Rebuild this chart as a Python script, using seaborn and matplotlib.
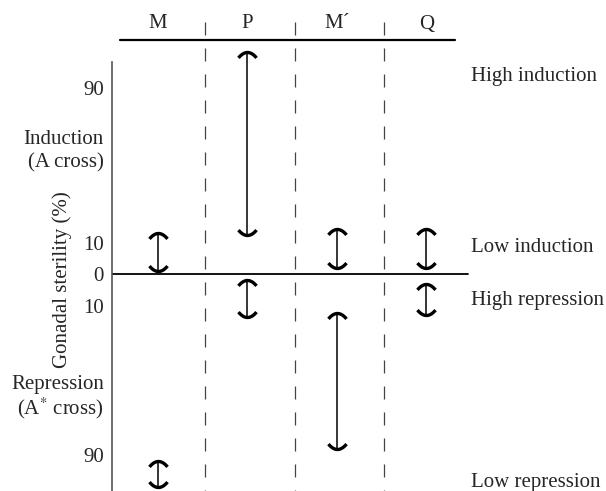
import numpy as np
import pandas as pd
import matplotlib
matplotlib.use("Agg")
import matplotlib.pyplot as plt
from matplotlib.path import Path
import seaborn as sns

# Strains and their gonadal-sterility ranges (%)
strains = ["M", "P", "M\u00b4", "Q"]
induction_low = [1, 14, 2, 2]        # A cross
induction_high = [15, 100, 17, 17]
repression_low = [92, 2, 14, 3]      # A* cross
repression_high = [100, 16, 87, 15]

tick_values = [90, 10, 0, -10, -90]
tick_labels = ["90", "10", "0", "10", "90"]
side_notes = ["High induction", "Low induction", "High repression", "Low repression"]

sns.set_theme(style="white")
plt.rcParams["font.family"] = ["Liberation Serif", "DejaVu Serif"]
plt.rcParams["mathtext.fontset"] = "stix"
FS = 15

# Long-form table: one row per range end, induction upward, repression downward
rows = []
for i, s in enumerate(strains):
    rows.append((i, induction_low[i], f"{s}-A"))
    rows.append((i, induction_high[i], f"{s}-A"))
    rows.append((i, -repression_low[i], f"{s}-A*"))
    rows.append((i, -repression_high[i], f"{s}-A*"))
df = pd.DataFrame(rows, columns=["pos", "value", "range"])

# Schematic sterility axis: ends (0-10, 90-100) stretched, middle compressed
up_knots, up_spans = np.array([0, 10, 90, 100, 200.0]), np.array([0, 31, 186, 222, 582.0])
dn_knots, dn_spans = np.array([0, 10, 90, 100, 200.0]), np.array([0, 32, 181, 213, 533.0])


def fwd(v):
    v = np.asarray(v, dtype=float)
    return np.where(v >= 0, np.interp(np.abs(v), up_knots, up_spans),
                    -np.interp(np.abs(v), dn_knots, dn_spans))


def inv(t):
    t = np.asarray(t, dtype=float)
    return np.where(t >= 0, np.interp(np.abs(t), up_spans, up_knots),
                    -np.interp(np.abs(t), dn_spans, dn_knots))


W, H = 606, 491
fig = plt.figure(figsize=(W / 100, H / 100), dpi=100)
ax = fig.add_axes([112 / W, 0, (W - 112) / W, 1])
ax.set_yscale("function", functions=(fwd, inv))
ax.set_xlim(-0.514, 5.006)
ax.set_ylim(float(inv(-217)), float(inv(274)))

# range stems
sns.lineplot(data=df, x="pos", y="value", units="range", estimator=None,
             color="black", linewidth=1.1, legend=False, ax=ax)

# curved end caps
xs = np.linspace(-1, 1, 25)
top_cap = Path(np.column_stack([xs, -0.6 * xs ** 2]))
bottom_cap = Path(np.column_stack([xs, 0.6 * xs ** 2]))
pos = np.arange(len(strains))
tops = list(induction_high) + [-v for v in repression_low]
bottoms = list(induction_low) + [-v for v in repression_high]
ax.plot(np.concatenate([pos, pos]), tops, linestyle="none", marker=top_cap,
        markersize=13, markerfacecolor="none", markeredgecolor="black",
        markeredgewidth=2.4)
ax.plot(np.concatenate([pos, pos]), bottoms, linestyle="none", marker=bottom_cap,
        markersize=13, markerfacecolor="none", markeredgecolor="black",
        markeredgewidth=2.4)

# baseline at 0 %
ax.axhline(0, xmin=0, xmax=(468 - 112) / (W - 112), color="black", lw=1.3)

# dashed separators between strains
dash = 13 * 0.72 / 0.9
for xd in [0.52, 1.53, 2.53]:
    ax.plot([xd, xd], [1 - 22 / H, 0], transform=ax.get_xaxis_transform(),
            color="#444444", lw=0.9, linestyle=(0, (dash, dash)), clip_on=False)

# header rule and strain names
ax.plot([8 / (W - 112), 343 / (W - 112)], [1 - 40 / H] * 2, transform=ax.transAxes,
        color="black", lw=1.6, clip_on=False)
for i, s in enumerate(strains):
    ax.text(i, 1 - 24 / H, s, transform=ax.get_xaxis_transform(),
            ha="center", va="center", fontsize=FS)

# y axis
for side in ["top", "right", "bottom"]:
    ax.spines[side].set_visible(False)
ax.spines["left"].set_color("#555555")
ax.spines["left"].set_linewidth(1.2)
ax.spines["left"].set_bounds(float(inv(-217)), float(inv(212)))
ax.set_xticks([])
ax.set_yticks(tick_values, tick_labels)
ax.tick_params(axis="y", length=0, pad=6, labelsize=FS)
ax.set_xlabel("")
ax.set_ylabel("")


def ftext(x, y, s, **kw):
    fig.text(x / W, 1 - y / H, s, fontsize=FS, va="center", **kw)


ftext(104, 140, "Induction", ha="right")
ftext(104, 163, "(A cross)", ha="right")
ftext(104, 385, "Repression", ha="right")
ftext(104, 408, "(A$^{*}$ cross)", ha="right")
ftext(62, 280, "Gonadal sterility (%)", ha="center", rotation=90)

for note, y in zip(side_notes, [76, 248, 300, 482]):
    ftext(471, y, note, ha="left")

fig.savefig("out.png", dpi=100)
